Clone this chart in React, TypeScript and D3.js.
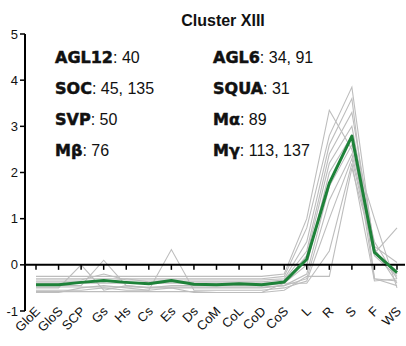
import React from "react";
import * as d3 from "d3";

// Tissue categories along the x axis
const categories = [
  "GloE", "GloS", "SCP", "Gs", "Hs", "Cs", "Es", "Ds", "CoM",
  "CoL", "CoD", "CoS", "L", "R", "S", "F", "WS",
];

// Individual gene profiles (standardised expression)
const profiles: number[][] = [
  [-0.25, -0.25, -0.25, -0.25, -0.25, -0.25, -0.25, -0.25, -0.25, -0.25, -0.25, -0.2, 1.0, 3.35, 2.5, 0.5, -0.3],
  [-0.3, -0.3, -0.3, -0.3, -0.3, -0.3, -0.3, -0.3, -0.3, -0.3, -0.3, -0.25, 0.8, 2.8, 3.85, 0.3, -0.2],
  [-0.33, -0.33, -0.33, -0.2, -0.33, -0.33, -0.33, -0.33, -0.33, -0.33, -0.33, -0.3, 0.5, 2.6, 3.6, -0.3, -0.35],
  [-0.37, -0.37, -0.37, -0.37, -0.3, -0.37, -0.37, -0.37, -0.37, -0.37, -0.37, -0.33, 0.3, 2.4, 3.3, 0.4, 0.05],
  [-0.4, -0.4, -0.4, -0.4, -0.4, -0.4, -0.4, -0.4, -0.4, -0.4, -0.4, -0.38, 0.2, 2.2, 3.0, 0.35, -0.4],
  [-0.45, -0.45, -0.45, 0.1, -0.45, -0.5, -0.45, -0.45, -0.45, -0.45, -0.45, -0.4, 0.0, 2.0, 2.8, -0.3, -0.45],
  [-0.48, -0.48, -0.48, -0.48, -0.48, -0.48, -0.48, -0.48, -0.48, -0.48, -0.48, -0.45, -0.2, 1.7, 2.6, 1.0, -0.5],
  [-0.5, -0.5, 0.0, -0.55, -0.45, -0.5, -0.5, -0.5, -0.5, -0.5, -0.5, -0.45, -0.3, 1.4, 2.4, 0.3, -0.2],
  [-0.55, -0.55, -0.55, -0.5, -0.55, -0.55, 0.33, -0.55, -0.55, -0.55, -0.55, -0.5, -0.35, 1.0, 2.3, 0.2, -0.25],
  [-0.58, -0.58, -0.58, -0.58, -0.58, -0.58, -0.58, -0.58, -0.6, -0.6, -0.6, -0.4, -0.4, 0.3, 2.2, -0.35, -0.3],
  [-0.6, -0.6, -0.5, -0.45, -0.5, -0.55, -0.5, -0.6, -0.6, -0.6, -0.6, -0.55, -0.25, -0.25, 2.1, 0.25, 0.8],
];

// Cluster mean profile
const meanProfile = [
  -0.43, -0.43, -0.38, -0.34, -0.38, -0.41, -0.34, -0.42, -0.43,
  -0.41, -0.43, -0.37, 0.12, 1.77, 2.79, 0.27, -0.17,
];

const yTicks = [-1, 0, 1, 2, 3, 4, 5];

// Gene annotations: [bold name, member ids]
const annotations: [string, string][] = [
  ["AGL12", ": 40"],
  ["AGL6", ": 34, 91"],
  ["SOC", ": 45, 135"],
  ["SQUA", ": 31"],
  ["SVP", ": 50"],
  ["M\u03b1", ": 89"],
  ["M\u03b2", ": 76"],
  ["M\u03b3", ": 113, 137"],
];

const W = 406;
const H = 346;

export default function App() {
  const x = d3.scalePoint<string>().domain(categories).range([36, 397]);
  const y = d3.scaleLinear().domain([-1, 5]).range([311, 34]);
  const line = d3
    .line<number>()
    .x((_, i) => x(categories[i]) as number)
    .y((d) => y(d));

  const axisX0 = 25;
  const sans = "'Liberation Sans', Arial, sans-serif";
  const heavy = "'DejaVu Sans', sans-serif";

  return (
    <svg
      width={W}
      height={H}
      viewBox={`0 0 ${W} ${H}`}
      style={{ position: "absolute", left: 0, top: 0, background: "#fff" }}
    >
      <text
        x={223}
        y={26}
        textAnchor="middle"
        fontFamily={sans}
        fontWeight="bold"
        fontSize={16}
        fill="#111"
      >
        Cluster XIII
      </text>

      {annotations.map(([name, ids], i) => {
        const col = i % 2;
        const row = Math.floor(i / 2);
        return (
          <text
            key={name}
            x={col === 0 ? 55 : 213}
            y={63 + row * 31}
            fontSize={16}
            fill="#111"
          >
            <tspan
              fontFamily={heavy}
              fontWeight="bold"
              stroke="#111"
              strokeWidth={0.5}
            >
              {name}
            </tspan>
            <tspan fontFamily={sans}>{ids}</tspan>
          </text>
        );
      })}

      {profiles.map((p, i) => (
        <path
          key={i}
          d={line(p) || ""}
          fill="none"
          stroke="#bdbdbd"
          strokeWidth={1.1}
        />
      ))}

      {/* y axis */}
      <line x1={axisX0} x2={axisX0} y1={y(5)} y2={y(-1)} stroke="#000" strokeWidth={2} />
      {yTicks.map((t) => (
        <g key={t}>
          <line x1={axisX0 - 5} x2={axisX0} y1={y(t)} y2={y(t)} stroke="#000" strokeWidth={1.5} />
          <text
            x={18}
            y={y(t) + 4.5}
            textAnchor="end"
            fontFamily={sans}
            fontSize={13}
            fill="#111"
          >
            {t}
          </text>
        </g>
      ))}

      {/* x axis at zero */}
      <line x1={axisX0} x2={405} y1={y(0)} y2={y(0)} stroke="#000" strokeWidth={2} />
      {categories.map((c) => (
        <g key={c}>
          <line
            x1={x(c) as number}
            x2={x(c) as number}
            y1={y(0)}
            y2={y(0) + 5}
            stroke="#000"
            strokeWidth={1.5}
          />
          <text
            transform={`translate(${(x(c) as number) + 5},${312}) rotate(-45)`}
            textAnchor="end"
            fontFamily={sans}
            fontSize={13}
            fill="#111"
          >
            {c}
          </text>
        </g>
      ))}

      <path
        d={line(meanProfile) || ""}
        fill="none"
        stroke="#1e8239"
        strokeWidth={3}
        strokeLinejoin="round"
      />
    </svg>
  );
}
